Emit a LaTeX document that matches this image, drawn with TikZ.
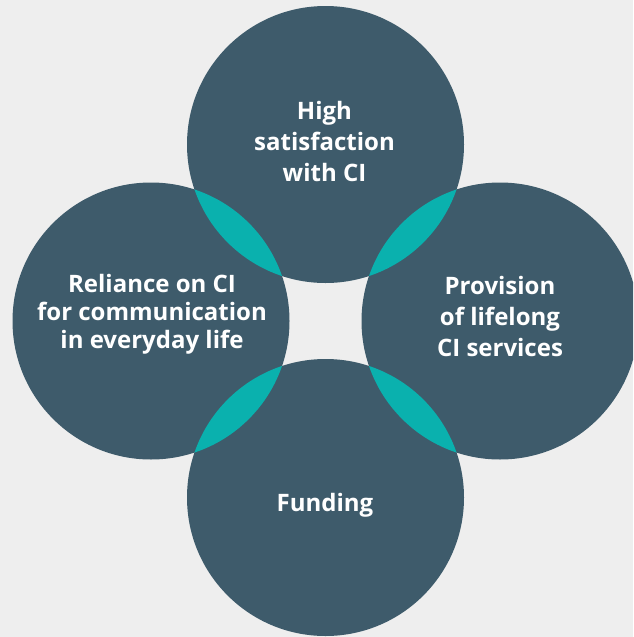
\documentclass[tikz,border=0pt]{standalone}
\usepackage{fontspec}
\setmainfont{Open Sans}
\definecolor{bgc}{HTML}{EEEEEE}
\definecolor{darkc}{HTML}{3E5B6B}
\definecolor{tealc}{HTML}{0AB1AE}
\begin{document}
\begin{tikzpicture}[x=1pt,y=-1pt,
  bubble/.style={circle,fill=darkc,draw=none,inner sep=0pt,minimum size=277pt},
  label/.style={text=white,align=center,font=\bfseries\fontsize{24}{31}\selectfont,inner sep=0pt},
  labeltight/.style={label,font=\bfseries\fontsize{24}{28}\selectfont}]
\useasboundingbox (0,0) rectangle (633,637);
\fill[bgc] (0,0) rectangle (633,637);
\clip (0,0) rectangle (633,637);
\node[bubble] (ctop) at (325.5,144.5) {};
\node[bubble] (cleft) at (151,321) {};
\node[bubble] (cright) at (500,321) {};
\node[bubble] (cbot) at (325.5,497.5) {};
\begin{scope}
  \clip (ctop.center) circle (138.5);
  \fill[tealc] (cleft.center) circle (138.5);
  \fill[tealc] (cright.center) circle (138.5);
\end{scope}
\begin{scope}
  \clip (cbot.center) circle (138.5);
  \fill[tealc] (cleft.center) circle (138.5);
  \fill[tealc] (cright.center) circle (138.5);
\end{scope}
\node[label] (ttop) at (324.5,141) {High\\satisfaction\\with CI};
\node[labeltight] (tleft) at (152,314) {Reliance on CI\\for communication\\in everyday life};
\node[label] (tright) at (500,316) {Provision\\of lifelong\\CI services};
\node[label] (tbot) at (325,505) {Funding};
\end{tikzpicture}
\end{document}
